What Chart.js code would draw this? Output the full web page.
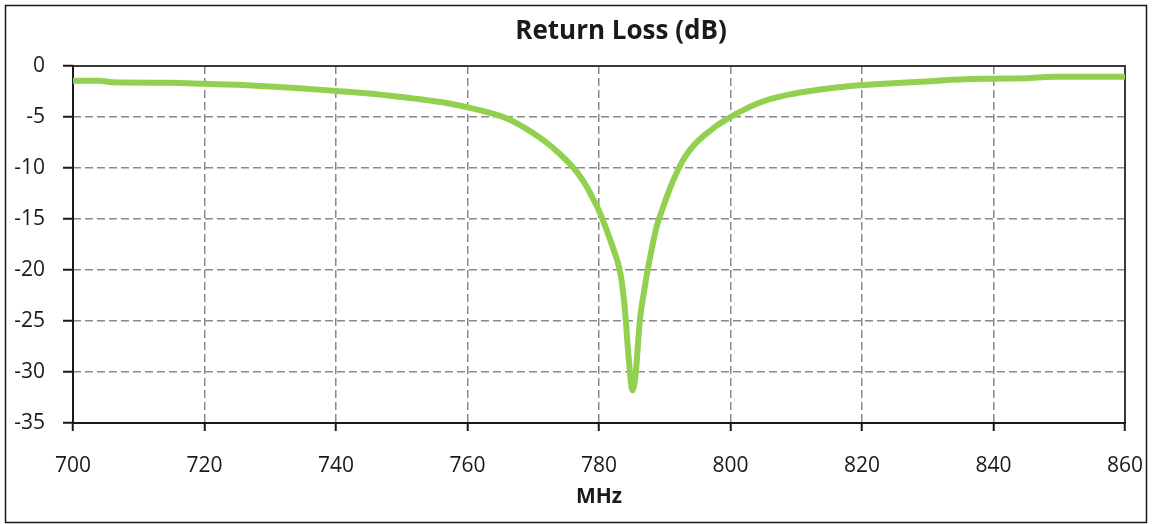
<!DOCTYPE html>
<html>
<head>
<meta charset="utf-8">
<script src="https://cdn.jsdelivr.net/npm/chart.js@4/dist/chart.umd.min.js"></script>
<style>
  html, body { margin: 0; padding: 0; background: #fff; }
  #wrap { width: 1152px; height: 524px; position: relative; }
</style>
</head>
<body>
<div id="wrap"><canvas id="c" width="1152" height="524"></canvas></div>
<script>
const chartTitle = "Return Loss (dB)";
const xTitle = "MHz";
const freqs = [700, 704, 706, 715, 720, 725, 730, 735, 740, 745, 748, 752, 757, 760, 764, 766, 768, 770, 772, 774, 776, 777, 778, 779, 780, 781, 782, 783, 783.5, 784, 784.5, 785.1, 785.6, 786.2, 786.8, 787.4, 788, 788.7, 789.5, 790.8, 792, 793, 794, 795, 796, 797, 798, 799, 800, 802, 804, 806, 808.5, 813.6, 818.6, 822, 828.8, 835.8, 840, 845, 849, 860];
const returnLoss = [-1.45, -1.45, -1.6, -1.65, -1.75, -1.85, -2.0, -2.2, -2.45, -2.7, -2.9, -3.2, -3.65, -4.05, -4.7, -5.15, -5.8, -6.6, -7.5, -8.6, -9.9, -10.7, -11.7, -12.9, -14.2, -15.8, -17.6, -19.6, -21.3, -24.3, -28.5, -31.8, -30.0, -25.0, -22.3, -20.0, -18.0, -15.9, -14.3, -12.0, -10.2, -9.0, -8.1, -7.4, -6.8, -6.3, -5.8, -5.4, -5.0, -4.3, -3.7, -3.25, -2.85, -2.3, -1.93, -1.8, -1.55, -1.3, -1.25, -1.2, -1.05, -1.05];
const xTicks = [700, 720, 740, 760, 780, 800, 820, 840, 860];
const yTicks = [0, -5, -10, -15, -20, -25, -30, -35];

const points = freqs.map((f, i) => ({ x: f, y: returnLoss[i] }));

const frame = {
  id: 'frame',
  beforeDraw(chart) {
    const ctx = chart.ctx;
    ctx.save();
    ctx.fillStyle = '#fff';
    ctx.fillRect(0, 0, chart.width, chart.height);
    ctx.strokeStyle = '#1a1a1a';
    ctx.lineWidth = 1.5;
    ctx.strokeRect(5.5, 5.5, chart.width - 11, chart.height - 7);
    ctx.restore();
  },
  beforeDatasetsDraw(chart) {
    const a = chart.chartArea, ctx = chart.ctx;
    ctx.save();
    ctx.setLineDash([]);
    ctx.lineWidth = 2;
    ctx.strokeStyle = '#3a3a3a';
    ctx.beginPath();
    ctx.moveTo(a.left, a.top);
    ctx.lineTo(a.right, a.top);
    ctx.lineTo(a.right, a.bottom);
    ctx.stroke();
    ctx.strokeStyle = '#1a1a1a';
    ctx.beginPath();
    ctx.moveTo(a.left, a.top - 1);
    ctx.lineTo(a.left, a.bottom);
    ctx.lineTo(a.right + 1, a.bottom);
    ctx.stroke();
    ctx.restore();
  },
  afterDraw(chart) {
    const ctx = chart.ctx;
    ctx.save();
    ctx.font = 'bold 26px "Open Sans"';
    ctx.fillStyle = '#1a1a1a';
    ctx.textAlign = 'center';
    ctx.textBaseline = 'middle';
    ctx.fillText(chartTitle, 621, 32);
    ctx.restore();
  }
};

new Chart(document.getElementById('c'), {
  type: 'line',
  data: {
    datasets: [{
      label: chartTitle,
      data: points,
      borderColor: '#92D050',
      borderWidth: 6,
      pointRadius: 0,
      cubicInterpolationMode: 'monotone',
      fill: false
    }]
  },
  options: {
    responsive: false,
    animation: false,
    layout: { padding: { top: 66, right: 27, left: 0, bottom: 0 } },
    plugins: {
      legend: { display: false },
      tooltip: { enabled: false },
      title: { display: false }
    },
    scales: {
      x: {
        type: 'linear',
        min: 700, max: 860,
        afterBuildTicks(scale) { scale.ticks = xTicks.map(v => ({ value: v })); },
        afterFit(scale) { scale.height = 101; scale.paddingLeft = 0; scale.paddingRight = 0; },
        ticks: {
          font: { family: '"Open Sans"', size: 21 },
          color: '#1a1a1a',
          padding: 22,
          maxRotation: 0,
          autoSkip: false
        },
        grid: {
          color: '#8a8a8a',
          lineWidth: 1.5,
          tickLength: 8,
          tickColor: '#1a1a1a',
          tickWidth: 2,
          tickBorderDash: []
        },
        border: { display: false, dash: [8, 4] },
        title: {
          display: true,
          text: xTitle,
          font: { family: '"Open Sans"', size: 21, weight: 'bold' },
          color: '#1a1a1a',
          padding: { top: 0, bottom: 14 }
        }
      },
      y: {
        min: -35, max: 0,
        afterBuildTicks(scale) { scale.ticks = yTicks.map(v => ({ value: v })); },
        afterFit(scale) { scale.width = 73; scale.paddingTop = 0; scale.paddingBottom = 0; },
        ticks: {
          font: { family: '"Open Sans"', size: 21 },
          color: '#1a1a1a',
          padding: 18,
          autoSkip: false
        },
        grid: {
          color: '#8a8a8a',
          lineWidth: 1.5,
          tickLength: 10,
          tickColor: '#1a1a1a',
          tickWidth: 2,
          tickBorderDash: []
        },
        border: { display: false, dash: [8, 4] }
      }
    }
  },
  plugins: [frame]
});
</script>
</body>
</html>
